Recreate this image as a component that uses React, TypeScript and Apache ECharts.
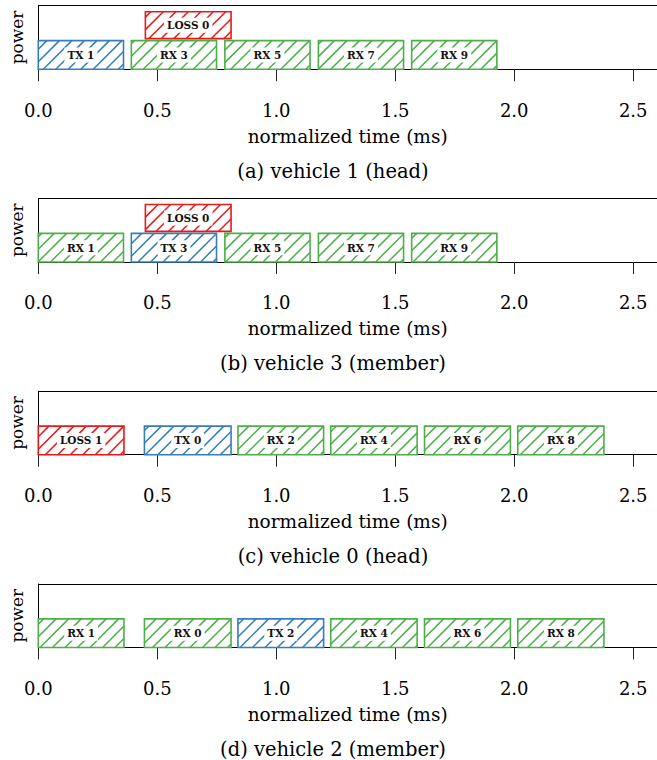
import React, { useEffect, useRef } from "react";
import * as echarts from "echarts";

// Captions under each timeline
const panelCaptions = [
  "(a) vehicle 1 (head)",
  "(b) vehicle 3 (member)",
  "(c) vehicle 0 (head)",
  "(d) vehicle 2 (member)",
];

// vehicle 1 (head)
const v1Labels = ["TX 1", "RX 3", "LOSS 0", "RX 5", "RX 7", "RX 9"];
const v1Start = [0.0, 0.391, 0.45, 0.784, 1.177, 1.569];
const v1End = [0.358, 0.749, 0.81, 1.142, 1.535, 1.927];
const v1Lane = [0, 0, 1, 0, 0, 0];

// vehicle 3 (member)
const v3Labels = ["RX 1", "TX 3", "LOSS 0", "RX 5", "RX 7", "RX 9"];
const v3Start = [0.0, 0.391, 0.45, 0.784, 1.177, 1.569];
const v3End = [0.358, 0.749, 0.81, 1.142, 1.535, 1.927];
const v3Lane = [0, 0, 1, 0, 0, 0];

// vehicle 0 (head)
const v0Labels = ["LOSS 1", "TX 0", "RX 2", "RX 4", "RX 6", "RX 8"];
const v0Start = [0.0, 0.446, 0.839, 1.229, 1.623, 2.015];
const v0End = [0.36, 0.81, 1.199, 1.592, 1.984, 2.377];
const v0Lane = [0, 0, 0, 0, 0, 0];

// vehicle 2 (member)
const v2Labels = ["RX 1", "RX 0", "TX 2", "RX 4", "RX 6", "RX 8"];
const v2Start = [0.0, 0.446, 0.839, 1.229, 1.623, 2.015];
const v2End = [0.36, 0.81, 1.199, 1.592, 1.984, 2.377];
const v2Lane = [0, 0, 0, 0, 0, 0];

const xTickValues = [0.0, 0.5, 1.0, 1.5, 2.0, 2.5];

type Panel = { labels: string[]; start: number[]; end: number[]; lane: number[] };
const panels: Panel[] = [
  { labels: v1Labels, start: v1Start, end: v1End, lane: v1Lane },
  { labels: v3Labels, start: v3Start, end: v3End, lane: v3Lane },
  { labels: v0Labels, start: v0Start, end: v0End, lane: v0Lane },
  { labels: v2Labels, start: v2Start, end: v2End, lane: v2Lane },
];

// vertical extent of each lane in power units
const LANE_BOTTOM = [0, 1.07];
const LANE_TOP = [1, 2.01];
const Y_MAX = 2.22;
const X_MAX = 2.6;

const KIND_COLORS: Record<string, string> = {
  TX: "#377eb8",
  RX: "#4daf4a",
  LOSS: "#e41a1c",
};

const SERIF = '"DejaVu Serif", serif';
const HATCH_STEP = 12.5;

const GRID_LEFT = 38.3;
const GRID_WIDTH = 620.3;
const GRID_TOP0 = 5.7;
const GRID_STEP = 192.75;
const GRID_HEIGHT = 63.5;
const CAPTION_X = 333;

function makeRenderItem(panel: Panel) {
  return (params: any, api: any) => {
    const s = api.value(0);
    const e = api.value(1);
    const lane = api.value(2);
    const label = panel.labels[params.dataIndex];
    const color = KIND_COLORS[label.split(" ")[0]];
    const pA = api.coord([s, LANE_BOTTOM[lane]]);
    const pB = api.coord([e, LANE_TOP[lane]]);
    const x0 = pA[0];
    const x1 = pB[0];
    const y0 = pB[1];
    const y1 = pA[1];

    const children: any[] = [];
    // "/" hatching: lines x + y = c, clipped to the box
    const kMin = Math.ceil((x0 + y0) / HATCH_STEP);
    const kMax = Math.floor((x1 + y1) / HATCH_STEP);
    for (let k = kMin; k <= kMax; k++) {
      const c = k * HATCH_STEP;
      const lo = Math.max(x0, c - y1);
      const hi = Math.min(x1, c - y0);
      if (hi - lo > 0.5) {
        children.push({
          type: "line",
          shape: { x1: lo, y1: c - lo, x2: hi, y2: c - hi },
          style: { stroke: color, lineWidth: 1.5 },
          silent: true,
        });
      }
    }
    children.push({
      type: "rect",
      shape: { x: x0, y: y0, width: x1 - x0, height: y1 - y0 },
      style: { fill: "none", stroke: color, lineWidth: 1.6 },
    });
    children.push({
      type: "text",
      x: (x0 + x1) / 2,
      y: (y0 + y1) / 2,
      style: {
        text: label,
        fill: "#111",
        fontFamily: SERIF,
        fontWeight: "bold",
        fontSize: 10.5,
        align: "center",
        verticalAlign: "middle",
        backgroundColor: "#fff",
        padding: [2, 3],
      },
    });
    return { type: "group", children };
  };
}

export default function App() {
  const ref = useRef<HTMLDivElement>(null);

  useEffect(() => {
    if (!ref.current) return;
    const chart = echarts.init(ref.current, null, { renderer: "svg" });

    const grids = panels.map((_, i) => ({
      left: GRID_LEFT,
      top: GRID_TOP0 + i * GRID_STEP,
      width: GRID_WIDTH,
      height: GRID_HEIGHT,
      show: false,
    }));

    const xAxes = panels.map((_, i) => ({
      type: "value",
      gridIndex: i,
      min: 0,
      max: X_MAX,
      interval: 0.5,
      name: "normalized time (ms)",
      nameLocation: "middle",
      nameGap: 57,
      nameTextStyle: { fontFamily: SERIF, fontSize: 18.5, color: "#000", lineHeight: 20 },
      axisLine: { show: true, lineStyle: { color: "#000", width: 1 } },
      axisTick: {
        show: true,
        length: 12,
        inside: false,
        customValues: xTickValues,
        lineStyle: { color: "#222", width: 1 },
      },
      axisLabel: {
        show: true,
        margin: 32,
        customValues: xTickValues,
        formatter: (v: number) => v.toFixed(1),
        fontFamily: SERIF,
        fontSize: 18,
        color: "#000",
        lineHeight: 18,
      },
      splitLine: { show: false },
    }));

    // top spine drawn as the split line at Y_MAX (the one at 0 sits under the x axis)
    const yAxes = panels.map((_, i) => ({
      type: "value",
      gridIndex: i,
      min: 0,
      max: Y_MAX,
      interval: Y_MAX,
      axisLine: { show: true, lineStyle: { color: "#000", width: 1 } },
      axisTick: { show: false },
      axisLabel: { show: false },
      splitLine: { show: true, lineStyle: { color: "#000", width: 1 } },
    }));

    const series = panels.map((p, i) => ({
      type: "custom",
      xAxisIndex: i,
      yAxisIndex: i,
      renderItem: makeRenderItem(p),
      encode: { x: [0, 1], y: 2 },
      data: p.labels.map((name, j) => ({ name, value: [p.start[j], p.end[j], p.lane[j]] })),
      clip: false,
    }));

    const graphics: any[] = [];
    panels.forEach((_, i) => {
      const top = GRID_TOP0 + i * GRID_STEP;
      graphics.push({
        type: "text",
        x: 16.5,
        y: top + GRID_HEIGHT / 2,
        rotation: Math.PI / 2,
        style: {
          text: "power",
          fontFamily: SERIF,
          fontSize: 17,
          fill: "#000",
          align: "center",
          verticalAlign: "middle",
        },
      });
      graphics.push({
        type: "text",
        x: CAPTION_X,
        y: top + GRID_HEIGHT + 102,
        style: {
          text: panelCaptions[i],
          fontFamily: SERIF,
          fontSize: 19.5,
          fill: "#000",
          align: "center",
          verticalAlign: "middle",
        },
      });
    });

    chart.setOption({
      animation: false,
      backgroundColor: "#fff",
      grid: grids,
      xAxis: xAxes,
      yAxis: yAxes,
      series,
      graphic: graphics,
    });

    return () => chart.dispose();
  }, []);

  return (
    <div
      ref={ref}
      style={{ position: "fixed", left: 0, top: 0, width: 657, height: 760, background: "#fff" }}
    />
  );
}
